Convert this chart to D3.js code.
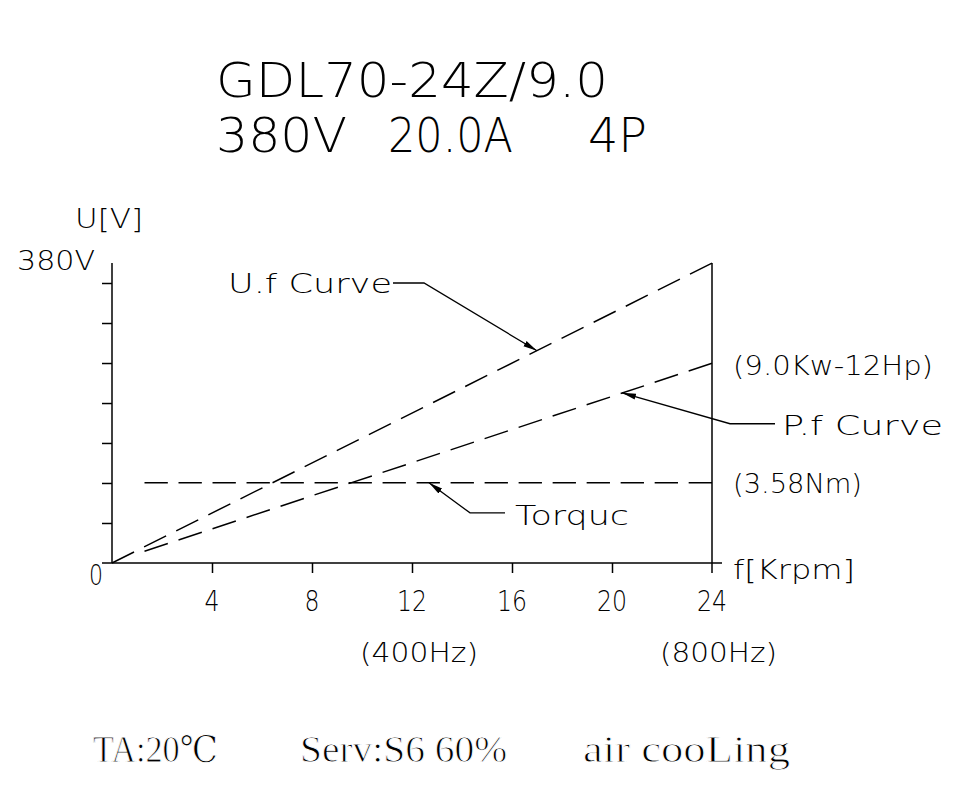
<!DOCTYPE html>
<html>
<head>
<meta charset="utf-8">
<script src="https://cdn.jsdelivr.net/npm/d3@7"></script>
<style>
  body { margin: 0; background: #fff; }
  .cad { font-family: "DejaVu Sans", sans-serif; font-weight: 200; fill: #000; }
  .foot { font-family: "Liberation Serif", "DejaVu Serif", serif; fill: #000; stroke: #fff; stroke-width: 0.9; }
</style>
</head>
<body>
<script>
// frequency axis (Krpm) and voltage axis (V)
let xTicks = [4, 8, 12, 16, 20, 24]
let yTicks = [54.3, 108.6, 162.9, 217.1, 271.4, 325.7, 380]

// curves: [f, U]
let ufCurve = [[0, 0], [24, 407]]
let pfCurve = [[1.3, 16], [24, 271]]
let torqueCurve = [[1.3, 109], [24, 109]]

// callouts: tip on curve, elbow, end of horizontal leader
let callouts = [
  { name: 'U.f Curve', tip: [17, 288], elbow: [12.48, 380], end: [11.24, 380] },
  { name: 'P.f Curve', tip: [20.4, 231], elbow: [24.72, 189], end: [26.52, 189] },
  { name: 'Torquc', tip: [12.68, 109], elbow: [14.32, 68], end: [15.72, 68] }
]

let width = 960, height = 795

let svg = d3.select('body')
  .append('svg')
  .attr('width', width)
  .attr('height', height)
  .style('background', '#fff')

let xScale = d3.scaleLinear().domain([0, 24]).range([112, 712])
let yScale = d3.scaleLinear().domain([0, 380]).range([563, 283])

// helper for a text with a fixed drawn width
function label(txt, x, y, len, size, cls) {
  svg.append('text')
    .attr('class', cls || 'cad')
    .attr('x', x).attr('y', y)
    .attr('font-size', size)
    .attr('textLength', len)
    .attr('lengthAdjust', 'spacingAndGlyphs')
    .text(txt)
}

// title
label('GDL70-24Z/9.0', 216, 97, 392, 48)
label('380V', 216, 152, 131, 48)
label('20.0A', 388, 152, 125, 48)
label('4P', 588, 152, 59, 48)

// axis lines
let axisTop = yScale(407)
svg.append('line').attr('x1', xScale(0)).attr('x2', xScale(0))
  .attr('y1', axisTop).attr('y2', yScale(0))
  .attr('stroke', '#000').attr('stroke-width', 1.5)
svg.append('line').attr('x1', xScale(24)).attr('x2', xScale(24))
  .attr('y1', axisTop).attr('y2', yScale(0) + 10)
  .attr('stroke', '#000').attr('stroke-width', 1.5)
svg.append('line').attr('x1', xScale(0) - 10).attr('x2', xScale(24) + 10)
  .attr('y1', yScale(0)).attr('y2', yScale(0))
  .attr('stroke', '#000').attr('stroke-width', 1.5)

// y ticks (no labels)
let yAxis = svg.append('g')
  .attr('transform', `translate(${xScale(0)},0)`)
  .call(d3.axisLeft(yScale).tickValues(yTicks).tickSize(10).tickFormat(''))
yAxis.select('.domain').remove()
yAxis.selectAll('line').attr('stroke-width', 1.5)

// x ticks with labels
let xAxis = svg.append('g')
  .attr('transform', `translate(0,${yScale(0)})`)
  .call(d3.axisBottom(xScale).tickValues(xTicks.slice(0, -1)).tickSize(10).tickFormat(''))
xAxis.select('.domain').remove()
xAxis.selectAll('line').attr('stroke-width', 1.5)

svg.selectAll('.xlab')
  .data(xTicks)
  .enter()
  .append('text')
  .attr('class', 'cad xlab')
  .attr('x', d => xScale(d) - String(d).length * 7.5)
  .attr('y', 611)
  .attr('font-size', 28)
  .attr('textLength', d => String(d).length * 15)
  .attr('lengthAdjust', 'spacingAndGlyphs')
  .text(d => d)

// axis texts
label('U[V]', 75, 228, 68, 27)
label('380V', 17, 270, 78, 27)
label('0', 89, 585, 14, 28)
label('f[Krpm]', 733, 579, 122, 27)
label('(400Hz)', 360, 662, 118, 27)
label('(800Hz)', 660, 662, 117, 27)
label('(9.0Kw-12Hp)', 733, 375, 200, 27)
label('(3.58Nm)', 733, 493, 129, 27)

// dashed curves, dash pattern fitted so both ends are dashes
function fitDash(len, dash, gap) {
  let n = Math.max(1, Math.round((len + gap) / (dash + gap)))
  let s = len / (n * dash + (n - 1) * gap)
  return `${dash * s},${gap * s}`
}

let line = d3.line().x(d => xScale(d[0])).y(d => yScale(d[1]))

;[ufCurve, pfCurve, torqueCurve].forEach(c => {
  let p = svg.append('path')
    .attr('d', line(c))
    .attr('fill', 'none')
    .attr('stroke', '#000')
    .attr('stroke-width', 1.5)
  let len = p.node().getTotalLength()
  p.attr('stroke-dasharray', fitDash(len, 24, 11))
})

// arrow heads
svg.append('defs').append('marker')
  .attr('id', 'arrow')
  .attr('markerUnits', 'userSpaceOnUse')
  .attr('viewBox', '0 0 14 8')
  .attr('refX', 14).attr('refY', 4)
  .attr('markerWidth', 14).attr('markerHeight', 8)
  .attr('orient', 'auto')
  .append('path')
  .attr('d', 'M0,1 L14,4 L0,7 Z')
  .attr('fill', '#000')

callouts.forEach(c => {
  svg.append('path')
    .attr('d', line([c.end, c.elbow, c.tip]))
    .attr('fill', 'none')
    .attr('stroke', '#000')
    .attr('stroke-width', 1.3)
    .attr('marker-end', 'url(#arrow)')
})

label('U.f Curve', 228, 293, 164, 27)
label('P.f Curve', 782, 435, 161, 27)
label('Torquc', 515, 525, 114, 27)

// footer
label('TA:20℃', 93, 762, 125, 37, 'foot')
label('Serv:S6 60%', 300, 762, 207, 37, 'foot')
label('air cooLing', 583, 762, 207, 37, 'foot')
</script>
</body>
</html>
